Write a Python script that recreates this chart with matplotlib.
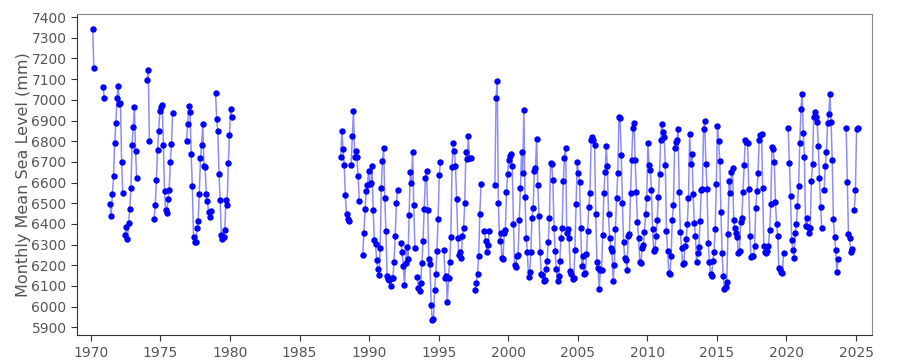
import numpy as np
import matplotlib
matplotlib.use("Agg")
from matplotlib import pyplot as plt

n = np.nan

# -- Monthly mean sea level (mm), Jan..Dec rows, nan = missing month --
msl_1970s = [
    n, 7344, 7156, n, n, n, n, n, n, n, 7063, 7010,                   # 1970
    n, n, n, n, 6495, 6440, 6543, 6632, 6789, 6886, 7011, 7069,         # 1971
    6982, 6987, 6698, 6551, n, 6347, 6387, 6326, 6403, 6474, 6572, 6783,  # 1972
    6870, 6966, 6751, 6620, n, n, n, n, n, n, n, n,                     # 1973
    7098, 7143, 6799, n, n, n, 6423, 6490, 6611, 6759, 6850, 6948,      # 1974
    6963, 6977, 6784, 6558, 6466, 6452, 6519, 6562, 6698, 6788, 6934, n,  # 1975
    n, n, n, n, n, n, n, n, n, n, 6802, 6881,                           # 1976
    6971, 6942, 6736, 6582, 6339, 6312, 6312, 6379, 6413, 6543, 6717, 6784,  # 1977
    6881, 6681, 6677, 6543, 6509, 6458, 6435, 6464, n, n, n, 7035,      # 1978
    6905, 6849, 6640, 6517, 6347, 6328, 6336, 6371, 6517, 6490, 6693, 6831,  # 1979
]
msl_1980s = [
    6958, 6919, n, n, n, n, n, n, n, n, n, n,                           # 1980
] + [n] * 12 * 6 + [                                                    # 1981-1986
    n, n, n, n, n, n, n, n, n, n, n, 6723,                              # 1987
    6850, 6760, 6685, 6538, 6447, 6426, 6413, n, 6683, 6825, 6944, 6725,  # 1988
    6754, 6722, 6632, 6509, n, n, 6251, 6358, 6471, 6558, 6590, 6654,   # 1989
]
msl_1990s = [
    6595, 6599, 6680, 6466, 6323, 6302, 6226, 6181, 6152, 6283, 6572, 6706,  # 1990
    6765, 6526, 6365, 6149, 6133, 6127, 6101, 6141, 6140, 6218, 6341, 6500,  # 1991
    6562, n, n, 6310, 6263, 6199, 6104, 6210, 6288, 6230, 6444, 6649,   # 1992
    6599, 6746, 6490, 6284, n, 6143, 6088, 6078, 6112, 6210, 6318, 6474,  # 1993
    6620, 6654, 6466, 6231, 6206, 6009, 5937, 5940, 6082, 6157, 6270, 6426,  # 1994
    6635, 6698, n, n, 6275, 6141, 6149, 6022, 6140, 6218, 6336, 6673,   # 1995
    6789, 6751, 6681, 6519, 6334, 6251, 6262, 6236, 6344, 6379, 6503, 6746,  # 1996
    6714, 6823, 6717, 6717, n, n, n, 6080, 6115, 6160, 6244, 6447,      # 1997
    6591, n, n, 6366, 6316, 6265, 6296, 6366, n, n, n, n,               # 1998
    6587, 7011, 7090, 6500, 6316, 6355, 6233, 6230, 6355, 6371, 6553, 6641,  # 1999
]
msl_2000s = [
    6709, 6730, 6736, 6678, 6400, 6201, 6191, 6247, 6249, 6419, 6572, 6746,  # 2000
    6648, 6950, 6530, 6330, 6263, 6143, 6170, 6263, 6427, 6476, 6656, 6672,  # 2001
    6813, 6588, 6439, 6262, 6159, 6151, 6125, 6130, 6183, 6220, 6313, 6427,  # 2002
    6693, 6688, 6614, 6378, 6271, 6181, 6125, 6146, 6220, 6333, 6382, 6609,  # 2003
    6718, 6768, 6355, 6376, 6331, 6172, 6156, 6133, 6140, 6275, 6495, 6698,  # 2004
    6648, 6601, 6381, 6198, 6245, 6160, 6165, 6254, 6366, 6484, 6548, 6804,  # 2005
    6820, 6805, 6784, 6447, 6215, 6186, 6085, 6178, 6175, 6347, 6550, 6649,  # 2006
    6776, 6680, 6447, 6334, 6286, 6270, 6125, 6202, 6377, 6524, 6645, 6915,  # 2007
    6910, 6731, 6503, 6313, 6234, 6226, 6178, 6342, 6350, 6548, 6709, 6866,  # 2008
    6890, 6709, 6553, 6407, 6331, 6218, 6212, 6283, 6296, 6363, 6450, 6524,  # 2009
]
msl_2010s = [
    6789, 6685, 6661, 6566, 6376, 6267, 6278, 6342, 6418, 6529, 6643, 6805,  # 2010
    6881, 6845, 6821, 6685, 6365, 6271, 6165, 6159, 6246, 6421, 6493, 6768,  # 2011
    6797, 6804, 6860, 6555, 6362, 6286, 6205, 6213, 6295, 6325, 6402, 6526,  # 2012
    6837, 6688, 6738, 6545, 6405, 6342, 6215, 6258, 6290, 6413, 6563, 6571,  # 2013
    6857, 6897, 6688, 6569, 6307, 6218, 6159, 6149, 6221, 6265, 6374, 6592,  # 2014
    6873, 6802, 6703, 6458, 6258, 6146, 6085, 6095, 6117, 6350, 6608, 6548,  # 2015
    6653, 6669, 6419, 6380, 6358, 6339, 6259, 6267, 6407, 6427, 6556, 6685,  # 2016
    6805, 6794, 6792, 6567, 6342, 6238, 6246, 6246, 6291, 6475, 6560, 6644,  # 2017
    6808, 6829, 6837, 6575, 6294, 6262, 6259, 6267, 6294, 6371, 6495, 6773,  # 2018
    6760, 6700, 6505, 6400, 6342, 6186, 6181, 6170, 6165, 6259, n, n,   # 2019
]
msl_2020s = [
    n, 6863, 6693, 6537, 6320, 6275, 6234, 6358, 6398, 6489, 6583, 6792,  # 2020
    6958, 7029, 6842, 6725, 6390, 6427, 6387, 6355, 6379, 6608, 6688, 6918,  # 2021
    6942, 6918, 6894, 6778, 6620, 6484, 6378, n, 6565, 6681, 6749, 6886,  # 2022
    6932, 7029, 6894, 6708, 6423, 6339, 6273, 6170, 6230, n, n, n,      # 2023
    n, n, n, 6866, 6601, 6350, 6334, 6263, 6278, n, 6465, 6562,         # 2024
    6861, 6866,                                                         # 2025
]

FIRST_YEAR = 1970

level = np.array(msl_1970s + msl_1980s + msl_1990s + msl_2000s + msl_2010s + msl_2020s, dtype=float)
# mid-month decimal year for each value
t = FIRST_YEAR + (np.arange(len(level)) + 0.5) / 12.

# PLOTTING:
fig = plt.figure(figsize=(9, 3.6), dpi=100)
ax = fig.add_axes([77/900, 25/360, 795/900, 321/360])

ax.plot(t, level, '-', color='blue', alpha=0.45, lw=1.1)
ax.plot(t, level, 'o', color='blue', ms=3.6, mec='blue', lw=0)

ax.set_xlim(1969.0, 2026.15)
ax.set_ylim(5863, 7415)
ax.set_xticks(np.arange(1970, 2026, 5))
ax.set_yticks(np.arange(5900, 7401, 100))

ax.set_ylabel('Monthly Mean Sea Level (mm)', fontsize=11.5, color='#555555', labelpad=0.5)
ax.tick_params(axis='both', labelsize=10, labelcolor='#555555', color='#333333', length=4, direction='out')
ax.tick_params(axis='x', pad=4)

for side in ('top', 'right'):
    ax.spines[side].set_color('#888888')
for side in ('left', 'bottom'):
    ax.spines[side].set_color('#333333')

fig.savefig('out.png', dpi=100)
